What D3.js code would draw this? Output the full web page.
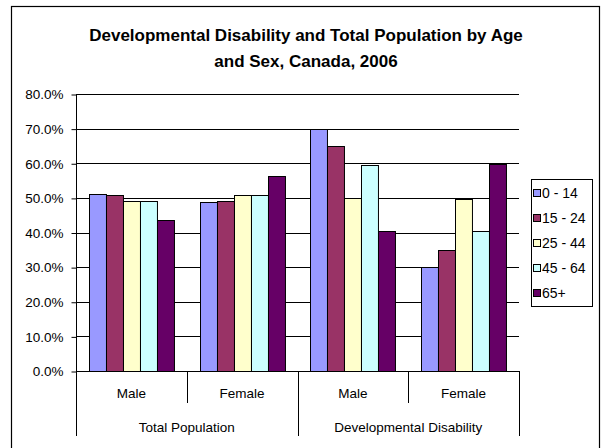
<!DOCTYPE html>
<html>
<head>
<meta charset="utf-8">
<script src="https://cdn.jsdelivr.net/npm/d3@7/dist/d3.min.js"></script>
<style>
  html, body { margin: 0; padding: 0; background: #fff; }
  svg { display: block; font-family: "Liberation Sans", Arial, sans-serif; }
</style>
</head>
<body>
<svg id="chart" width="602" height="448"></svg>
<script>
// Population groups (outer axis level) and sexes (inner axis level)
const groups = ["Total Population", "Developmental Disability"];
const sexes = ["Male", "Female"];
const ageGroups = ["0 - 14", "15 - 24", "25 - 44", "45 - 64", "65+"];

// Share of each age group by sex (fractions), one array per age group,
// ordered: Total Pop Male, Total Pop Female, Dev. Disability Male, Dev. Disability Female
const age0to14 = [0.512, 0.488, 0.700, 0.300];
const age15to24 = [0.508, 0.492, 0.650, 0.350];
const age25to44 = [0.490, 0.508, 0.500, 0.498];
const age45to64 = [0.490, 0.508, 0.595, 0.405];
const age65plus = [0.436, 0.564, 0.403, 0.598];

const yTicks = [0, 0.1, 0.2, 0.3, 0.4, 0.5, 0.6, 0.7, 0.8];
const colors = ["#9999FF", "#993366", "#FFFFCC", "#CCFFFF", "#660066"];

const seriesValues = [age0to14, age15to24, age25to44, age45to64, age65plus];
const categories = [];
groups.forEach(g => sexes.forEach(s => categories.push({ group: g, sex: s, key: g + "|" + s })));

const svg = d3.select("#chart");

// chart frame (runs past the bottom edge of the canvas)
svg.append("rect")
  .attr("x", 11.5).attr("y", 6.5).attr("width", 588).attr("height", 460)
  .attr("fill", "#fff").attr("stroke", "#000").attr("stroke-width", 1.2);

// title
const title = svg.append("text")
  .attr("text-anchor", "middle").attr("font-weight", "bold").attr("font-size", 17)
  .attr("fill", "#000");
title.append("tspan").attr("x", 306).attr("y", 41)
  .text("Developmental Disability and Total Population by Age");
title.append("tspan").attr("x", 306).attr("y", 67)
  .text("and Sex, Canada, 2006");

const plot = { left: 76, right: 519, top: 94, bottom: 371 };

const x0 = d3.scaleBand()
  .domain(categories.map(c => c.key))
  .range([plot.left, plot.right])
  .padding(0);

const x1 = d3.scaleBand()
  .domain(ageGroups)
  .range([0, x0.bandwidth()])
  .paddingInner(0)
  .paddingOuter(0.765);

const y = d3.scaleLinear().domain([0, 0.8]).range([plot.bottom, plot.top]);

// gridlines
svg.append("g")
  .selectAll("line")
  .data(yTicks)
  .join("line")
  .attr("x1", plot.left).attr("x2", plot.right)
  .attr("y1", d => Math.round(y(d)) + 0.5).attr("y2", d => Math.round(y(d)) + 0.5)
  .attr("stroke", "#000").attr("stroke-width", 1);

// y axis
const yAxis = d3.axisLeft(y)
  .tickValues(yTicks)
  .tickFormat(d3.format(".1%"))
  .tickSize(5)
  .tickPadding(8);
const yg = svg.append("g")
  .attr("transform", `translate(${plot.left + 0.5},0.5)`)
  .call(yAxis);
yg.select(".domain").remove();
yg.selectAll(".tick line").attr("stroke", "#000");
yg.selectAll(".tick text")
  .attr("font-size", 13.5).attr("fill", "#000")
  .attr("font-family", "'Liberation Sans', Arial, sans-serif");

// bars
const barData = [];
categories.forEach((c, ci) => {
  ageGroups.forEach((a, ai) => {
    barData.push({ cat: c.key, age: a, value: seriesValues[ai][ci], color: colors[ai] });
  });
});

svg.append("g")
  .selectAll("rect")
  .data(barData)
  .join("rect")
  .attr("x", d => Math.round(x0(d.cat) + x1(d.age)) + 0.5)
  .attr("y", d => Math.round(y(d.value)) + 0.5)
  .attr("width", x1.bandwidth())
  .attr("height", d => Math.round(y(0)) - Math.round(y(d.value)))
  .attr("fill", d => d.color)
  .attr("stroke", "#000").attr("stroke-width", 1);

// vertical axis line
svg.append("line")
  .attr("x1", plot.left + 0.5).attr("x2", plot.left + 0.5)
  .attr("y1", plot.top).attr("y2", plot.bottom + 0.5)
  .attr("stroke", "#000");

// category axis: inner dividers between sexes, outer dividers between groups
const innerLen = 32, outerLen = 65;
const cx = categories.map(c => x0(c.key));
const boundaries = cx.concat([plot.right]);
boundaries.forEach((bx, i) => {
  const outer = (i % 2 === 0);
  svg.append("line")
    .attr("x1", Math.round(bx) + 0.5).attr("x2", Math.round(bx) + 0.5)
    .attr("y1", plot.bottom).attr("y2", plot.bottom + (outer ? outerLen : innerLen))
    .attr("stroke", "#000");
});

svg.append("g")
  .selectAll("text")
  .data(categories)
  .join("text")
  .attr("x", d => x0(d.key) + x0.bandwidth() / 2)
  .attr("y", plot.bottom + 27)
  .attr("text-anchor", "middle")
  .attr("font-size", 13.5)
  .text(d => d.sex);

svg.append("g")
  .selectAll("text")
  .data(groups)
  .join("text")
  .attr("x", g => x0(g + "|Male") + x0.bandwidth())
  .attr("y", plot.bottom + 61)
  .attr("text-anchor", "middle")
  .attr("font-size", 13.5)
  .text(g => g);

// legend
const legend = svg.append("g").attr("transform", "translate(531,179)");
legend.append("rect")
  .attr("x", 0.5).attr("y", 0.5).attr("width", 61).attr("height", 127)
  .attr("fill", "#fff").attr("stroke", "#000");
const items = legend.selectAll("g.item")
  .data(ageGroups)
  .join("g")
  .attr("class", "item")
  .attr("transform", (d, i) => `translate(2,${14 + i * 25})`);
items.append("rect")
  .attr("x", 0.5).attr("y", -3.5).attr("width", 7).attr("height", 7)
  .attr("fill", (d, i) => colors[i]).attr("stroke", "#000");
items.append("text")
  .attr("x", 9).attr("y", 5)
  .attr("font-size", 14)
  .text(d => d);
</script>
</body>
</html>
